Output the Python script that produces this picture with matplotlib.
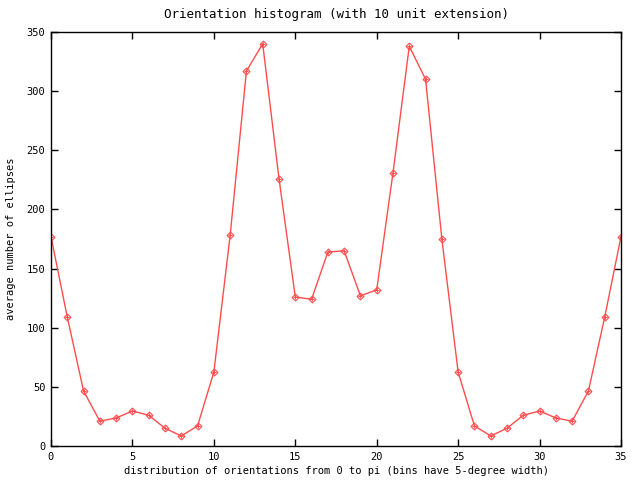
import matplotlib
matplotlib.use("Agg")
import matplotlib.pyplot as plt

bins = list(range(36))
counts = [177, 109, 46.5, 21, 23.7, 29.6, 26, 15, 8.5, 17, 62.5, 178, 317, 340,
          226, 126, 124, 164, 165, 127, 132, 231, 338, 310, 175, 62.5, 17, 8.5,
          15, 26, 29.6, 23.7, 21, 46.5, 109, 177]
xticks = [0, 5, 10, 15, 20, 25, 30, 35]
yticks = [0, 50, 100, 150, 200, 250, 300, 350]

plt.rcParams['font.family'] = ['DejaVu Sans Mono']
plt.rcParams['font.size'] = 7.5

fig = plt.figure(figsize=(6.4, 4.8), dpi=100)
ax = fig.add_axes([51/640, 1-446/480, (621-51)/640, (446-32)/480])
color = '#ff4d4d'
ax.plot(bins, counts, color=color, linewidth=1.0)
ax.plot(bins, counts, linestyle='none', marker='D', markersize=3.5,
        markerfacecolor='none', markeredgecolor=color, markeredgewidth=0.8)
ax.plot(bins, counts, linestyle='none', marker='+', markersize=3.5,
        markeredgecolor=color, markeredgewidth=0.7)
ax.set_xlim(0, 35)
ax.set_ylim(0, 350)
ax.set_xticks(xticks)
ax.set_yticks(yticks)
ax.tick_params(direction='in', top=True, right=True, length=5, width=1, pad=4)
for s in ax.spines.values():
    s.set_linewidth(1.0)
ax.set_title('Orientation histogram (with 10 unit extension)', pad=10)
ax.set_xlabel('distribution of orientations from 0 to pi (bins have 5-degree width)', labelpad=3)
ax.set_ylabel('average number of ellipses', labelpad=8)
fig.savefig('out.png', dpi=100)
